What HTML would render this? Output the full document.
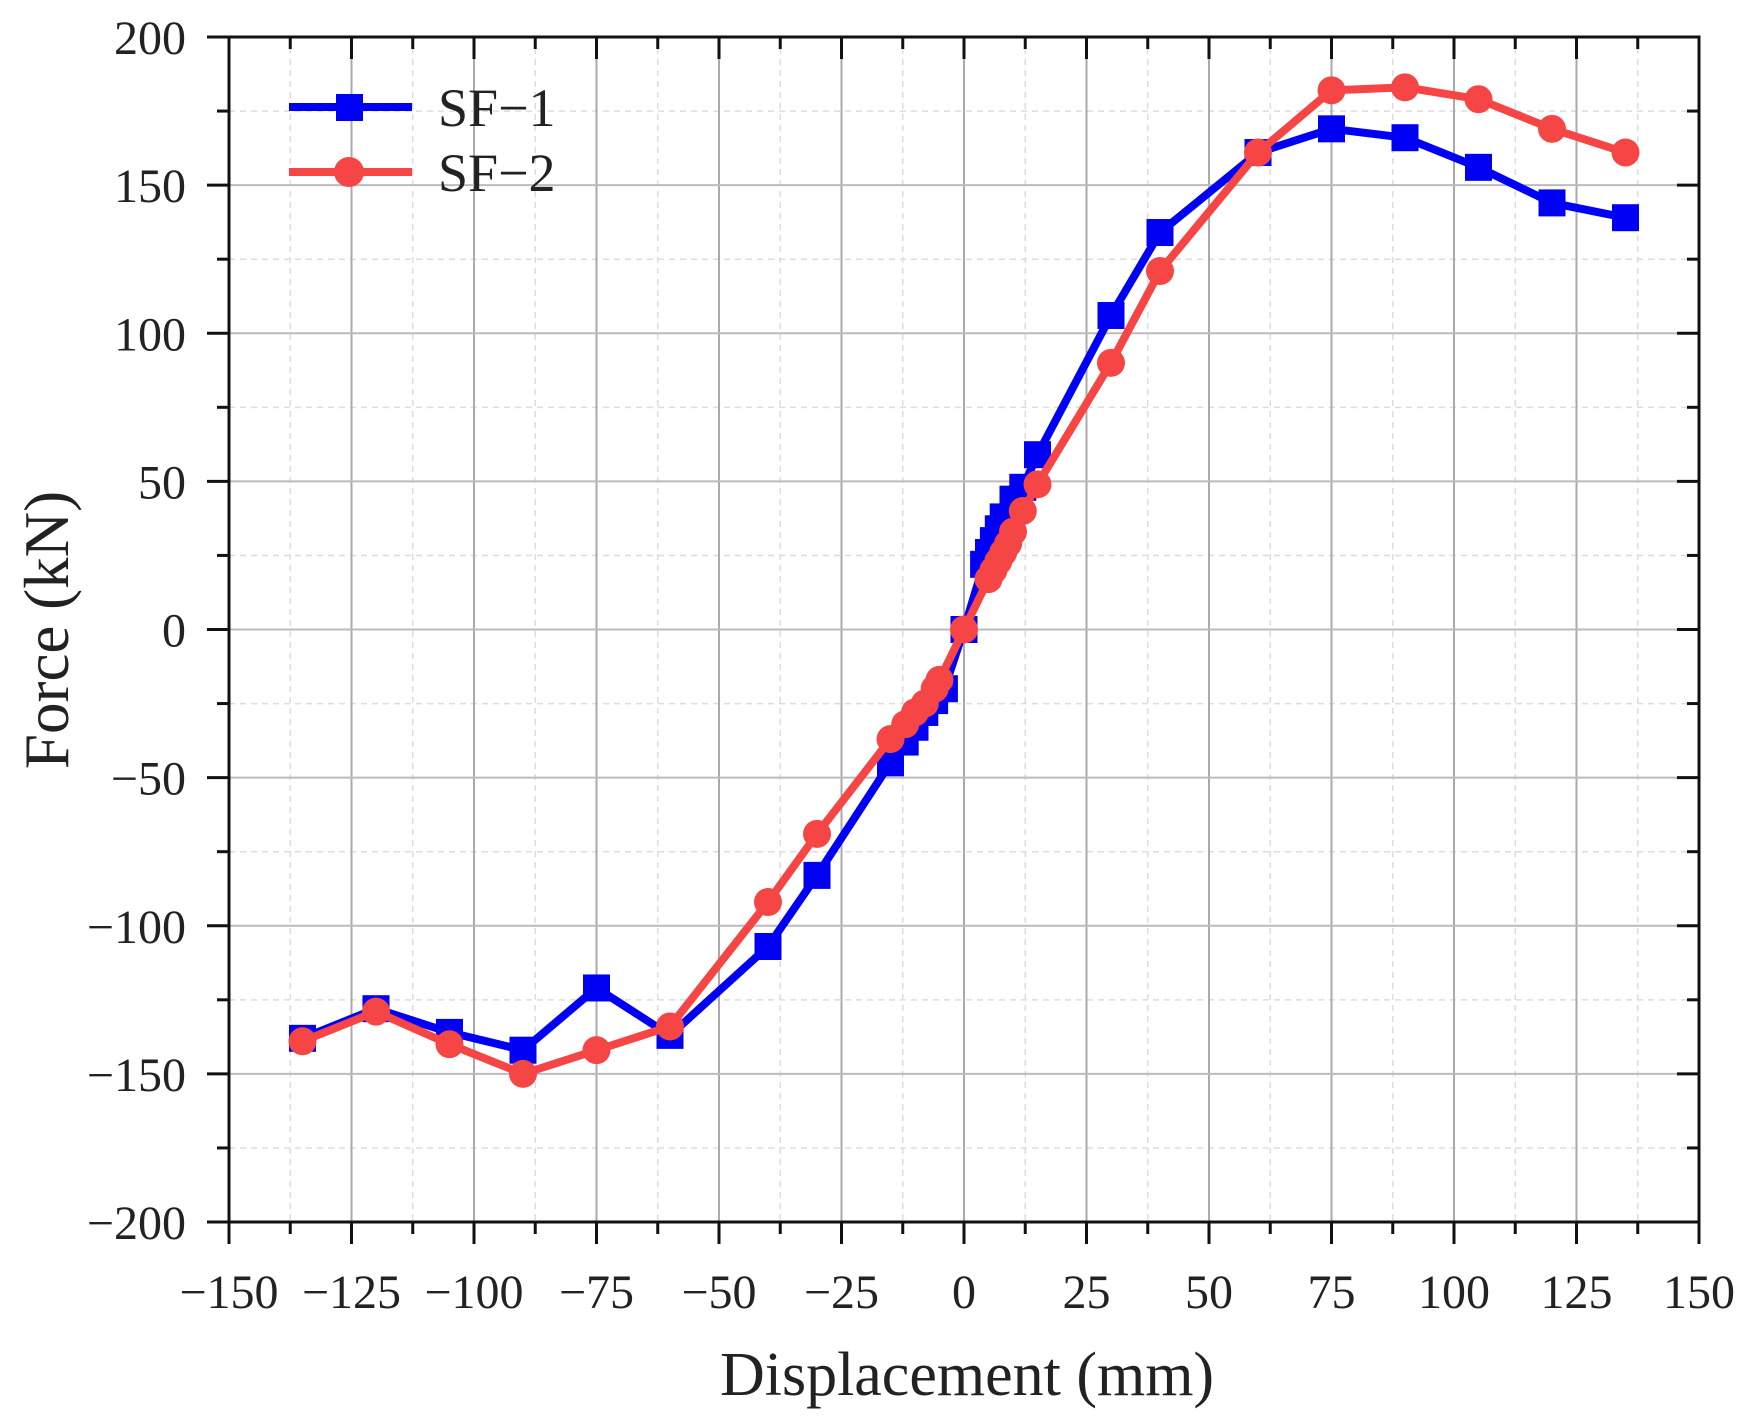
<!DOCTYPE html>
<html><head><meta charset="utf-8"><style>
html,body{margin:0;padding:0;background:#fff;}
svg{display:block;}
text{font-family:"Liberation Serif",serif;fill:#222;}
</style></head><body>
<svg id="s" width="1757" height="1424" viewBox="0 0 1757 1424" xmlns="http://www.w3.org/2000/svg"></svg>
<script>
var L=229,R=1699,T=37,B=1222;
function X(v){return L+(v+150)*(R-L)/300;}
function Y(v){return T+(200-v)*(B-T)/400;}
var h='';
for(var v=-137.5;v<150;v+=25){h+='<line x1="'+X(v)+'" y1="'+T+'" x2="'+X(v)+'" y2="'+B+'" stroke="#ddd" stroke-width="1.5" stroke-dasharray="6,5"/>';}
for(var v=-175;v<200;v+=50){h+='<line x1="'+L+'" y1="'+Y(v)+'" x2="'+R+'" y2="'+Y(v)+'" stroke="#ddd" stroke-width="1.5" stroke-dasharray="6,5"/>';}
for(var v=-125;v<150;v+=25){h+='<line x1="'+X(v)+'" y1="'+T+'" x2="'+X(v)+'" y2="'+B+'" stroke="#aaa" stroke-width="2"/>';}
for(var v=-150;v<200;v+=50){h+='<line x1="'+L+'" y1="'+Y(v)+'" x2="'+R+'" y2="'+Y(v)+'" stroke="#bbb" stroke-width="2"/>';}
h+='<rect x="'+L+'" y="'+T+'" width="'+(R-L)+'" height="'+(B-T)+'" fill="none" stroke="#111" stroke-width="3"/>';
for(var v=-150;v<=150;v+=12.5){var maj=(v%25===0);var len=maj?22:12;
 h+='<line x1="'+X(v)+'" y1="'+B+'" x2="'+X(v)+'" y2="'+(B+len)+'" stroke="#111" stroke-width="3"/>';
 h+='<line x1="'+X(v)+'" y1="'+T+'" x2="'+X(v)+'" y2="'+(T+len)+'" stroke="#111" stroke-width="3"/>';
 if(maj){var s=(v<0?'\u2212':'')+Math.abs(v);h+='<text x="'+X(v)+'" y="1308" font-size="48" text-anchor="middle">'+s+'</text>';}}
for(var v=-200;v<=200;v+=25){var maj=(v%50===0);var len=maj?22:12;
 h+='<line x1="'+(L-len)+'" y1="'+Y(v)+'" x2="'+L+'" y2="'+Y(v)+'" stroke="#111" stroke-width="3"/>';
 h+='<line x1="'+(R-len)+'" y1="'+Y(v)+'" x2="'+R+'" y2="'+Y(v)+'" stroke="#111" stroke-width="3"/>';
 if(maj){var s=(v<0?'\u2212':'')+Math.abs(v);h+='<text x="186" y="'+(Y(v)+17)+'" font-size="48" text-anchor="end">'+s+'</text>';}}
h+='<text x="967" y="1395" font-size="62" text-anchor="middle">Displacement (mm)</text>';
h+='<text transform="translate(68,630) rotate(-90)" font-size="63" text-anchor="middle">Force (kN)</text>';
var s1=[[-135,-138],[-120,-128],[-105,-136],[-90,-142],[-75,-121],[-60,-137],[-40,-107],[-30,-83],[-15,-45],[-12,-38],[-10,-33],[-8,-28],[-6,-24],[-4,-20],[0,0],[4,22],[5,26],[6,30],[7,34],[8,38],[10,44],[12,48],[15,59],[30,106],[40,134],[60,161],[75,169],[90,166],[105,156],[120,144],[135,139]];
var s2=[[-135,-139],[-120,-129],[-105,-140],[-90,-150],[-75,-142],[-60,-134],[-40,-92],[-30,-69],[-15,-37],[-12,-32],[-10,-28],[-8,-25],[-6,-20],[-5,-17],[0,0],[5,17],[6,20],[7,23],[8,26],[9,29],[10,33],[12,40],[15,49],[30,90],[40,121],[60,161],[75,182],[90,183],[105,179],[120,169],[135,161]];
function pl(d,c){return '<polyline fill="none" stroke="'+c+'" stroke-width="8" stroke-linejoin="round" points="'+d.map(function(p){return X(p[0])+','+Y(p[1]);}).join(' ')+'"/>';}
h+=pl(s1,'#0000f5');
s1.forEach(function(p){h+='<rect x="'+(X(p[0])-13.5)+'" y="'+(Y(p[1])-13.5)+'" width="27" height="27" fill="#0000f5"/>';});
h+=pl(s2,'#f54545');
s2.forEach(function(p){h+='<circle cx="'+X(p[0])+'" cy="'+Y(p[1])+'" r="14" fill="#f54545"/>';});
h+='<line x1="289" y1="107" x2="412" y2="107" stroke="#0000f5" stroke-width="8"/><rect x="336" y="94" width="27" height="27" fill="#0000f5"/>';
h+='<line x1="289" y1="172" x2="412" y2="172" stroke="#f54545" stroke-width="8"/><circle cx="349" cy="172" r="15" fill="#f54545"/>';
h+='<text x="438" y="126" font-size="54">SF\u22121</text><text x="438" y="191" font-size="54">SF\u22122</text>';
document.getElementById('s').innerHTML=h;
</script>
</body></html>
